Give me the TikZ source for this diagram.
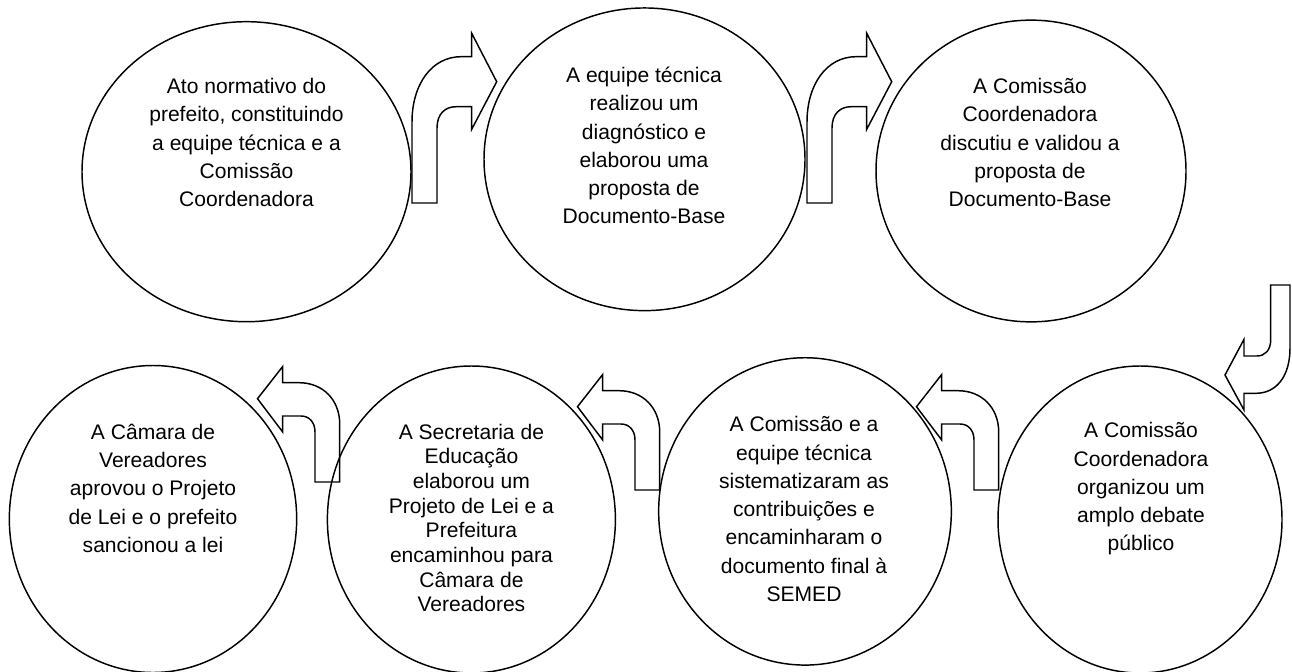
\documentclass[tikz,border=0pt]{standalone}
\usepackage{fontspec}
\setmainfont{Liberation Sans}
\usetikzlibrary{shapes.geometric}

\tikzset{
  stage/.style={draw, ellipse, line width=1.1pt, inner sep=0pt},
  stagetext/.style={align=center, font=\fontsize{15.8}{21.2}\selectfont},
  bentarrow/.style={draw, line width=1.1pt, line join=miter},
}

\begin{document}
\begin{tikzpicture}[x=0.75pt, y=-0.75pt]
  \useasboundingbox (0,0) rectangle (1292,671);

  \node[stage, minimum width=246.75pt, minimum height=225pt] (ato) at (246.5,171.7) {};
  \node[stage, minimum width=240.75pt, minimum height=227pt] (diag) at (644.5,159.3) {};
  \node[stage, minimum width=232.5pt, minimum height=226.3pt] (valida) at (1031,171) {};
  \node[stage, minimum width=213pt, minimum height=230.25pt] (debate) at (1140,519.5) {};
  \node[stage, minimum width=219.5pt, minimum height=230.5pt] (sistem) at (805,511.4) {};
  \node[stage, minimum width=216pt, minimum height=230.25pt] (projeto) at (471.4,519.5) {};
  \node[stage, minimum width=215.5pt, minimum height=230.25pt] (lei) at (153,519) {};

  \node[stagetext] (atotext) at (246.5,142.5) {Ato normativo do\\prefeito, constituindo\\a equipe técnica e a\\Comissão\\Coordenadora};
  \node[stagetext] (diagtext) at (644,145.5) {A equipe técnica\\realizou um\\diagnóstico e\\elaborou uma\\proposta de\\Documento-Base};
  \node[stagetext] (validatext) at (1030,142.5) {A Comissão\\Coordenadora\\discutiu e validou a\\proposta de\\Documento-Base};
  \node[stagetext] (debatetext) at (1141,489) {A Comissão\\Coordenadora\\organizou um\\amplo debate\\público};
  \node[stagetext] (sistemtext) at (804,509) {A Comissão e a\\equipe técnica\\sistematizaram as\\contribuições e\\encaminharam o\\documento final à\\SEMED};
  \node[stagetext, font=\fontsize{15.8}{18.5}\selectfont] (projetotext) at (471.4,518) {A Secretaria de\\Educação\\elaborou um\\Projeto de Lei e a\\Prefeitura\\encaminhou para\\Câmara de\\Vereadores};
  \node[stagetext] (leitext) at (153,488.3) {A Câmara de\\Vereadores\\aprovou o Projeto\\de Lei e o prefeito\\sancionou a lei};

  \foreach \dx in {0,395}
    \draw[bentarrow, shift={(\dx,0)}] (412,203) -- (412,122)
      .. controls (412,84) and (432,56.7) .. (461,56.7) -- (471.7,56.7) -- (471.7,33.3)
      -- (496.7,81.7) -- (471.7,129.3) -- (471.7,106.7) -- (456,106.7)
      .. controls (445,106.7) and (437,114) .. (437,128) -- (437,203) -- cycle;

  \draw[bentarrow] (1270.7,285) -- (1290,285) -- (1290,348)
    .. controls (1290,378) and (1275,393.3) .. (1256,393.3) -- (1244,393.3) -- (1244,410)
    -- (1225,375) -- (1244,339.3) -- (1244,356) -- (1257,356)
    .. controls (1265,356) and (1270.7,350) .. (1270.7,340) -- cycle;

  \foreach \dx/\dy in {0/0,-339/0,-659/-8}
    \draw[bentarrow, shift={(\dx,\dy)}] (974,490) -- (974,440)
      .. controls (974,430) and (968,424) .. (960,424) -- (941.7,424) -- (941.7,440)
      -- (916.5,406.7) -- (941.7,374.5) -- (941.7,390.7) -- (958,390.7)
      .. controls (982,390.7) and (998.7,408) .. (998.7,432) -- (998.7,490) -- cycle;
\end{tikzpicture}
\end{document}
